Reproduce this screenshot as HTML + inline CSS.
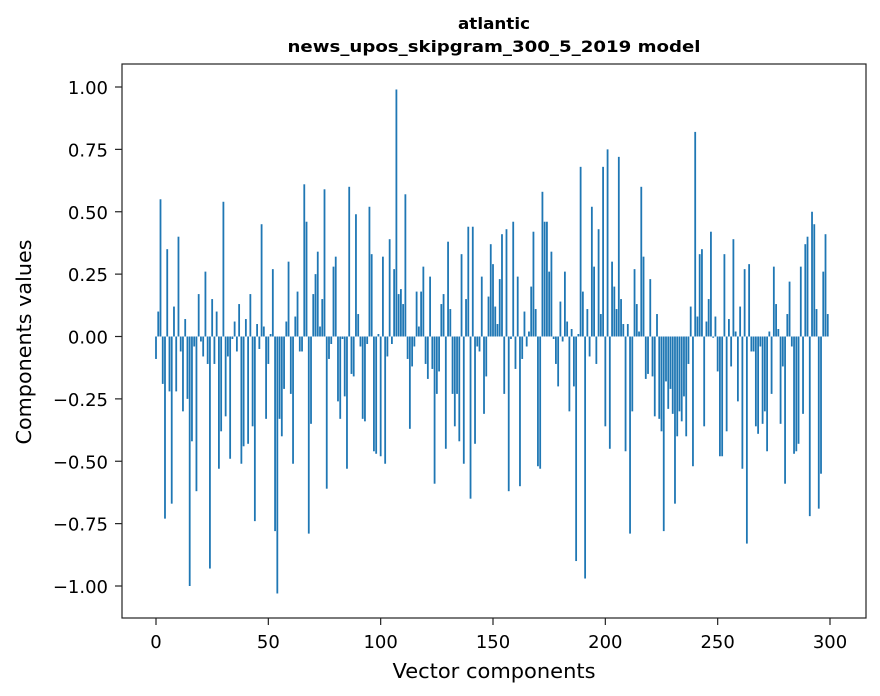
<!DOCTYPE html>
<html><head><meta charset="utf-8"><style>
body{margin:0;background:#fff;}
svg{display:block;font-family:"DejaVu Sans","Liberation Sans",sans-serif;}
</style></head><body>
<svg id="chart" width="880" height="696">
<rect width="880" height="696" fill="#fff"/>
<text x="494" y="29" text-anchor="middle" font-size="16" font-weight="bold" textLength="72" lengthAdjust="spacingAndGlyphs">atlantic</text>
<text x="494" y="52" text-anchor="middle" font-size="16" font-weight="bold" textLength="413" lengthAdjust="spacingAndGlyphs">news_upos_skipgram_300_5_2019 model</text>
<g id="bars"></g>
<g id="xticks"></g>
<g id="yticks"></g>
<rect x="122" y="64" width="744" height="554" fill="none" stroke="#222" stroke-width="1.2"/>
<text x="494" y="678" text-anchor="middle" font-size="20" textLength="203" lengthAdjust="spacingAndGlyphs">Vector components</text>
<text transform="translate(31,342) rotate(-90)" text-anchor="middle" font-size="20" textLength="205" lengthAdjust="spacingAndGlyphs">Components values</text>
</svg>
<script>
const values = [
-0.09,0.10,0.55,-0.19,-0.73,0.35,-0.22,-0.67,0.12,-0.22,
0.40,-0.06,-0.30,0.07,-0.25,-1.00,-0.42,-0.04,-0.62,0.17,
-0.02,-0.08,0.26,-0.11,-0.93,0.15,-0.11,0.10,-0.53,-0.38,
0.54,-0.32,-0.08,-0.49,-0.01,0.06,-0.06,0.13,-0.51,-0.44,
0.07,-0.43,0.17,-0.36,-0.74,0.05,-0.05,0.45,0.04,-0.33,
-0.11,0.01,0.27,-0.78,-1.03,-0.33,-0.40,-0.21,0.06,0.30,
-0.23,-0.51,0.08,0.18,-0.06,-0.06,0.61,0.46,-0.79,-0.35,
0.17,0.25,0.34,0.04,0.15,0.59,-0.61,-0.09,-0.03,0.28,
0.32,-0.26,-0.33,-0.01,-0.24,-0.53,0.60,-0.15,-0.16,0.49,
0.09,-0.04,-0.33,-0.34,-0.03,0.52,0.33,-0.46,-0.47,0.01,
-0.48,0.32,-0.51,-0.08,0.39,-0.03,0.27,0.99,0.17,0.19,
0.13,0.57,-0.09,-0.37,-0.12,-0.04,0.18,0.04,0.18,0.28,
-0.11,-0.17,0.24,-0.13,-0.59,-0.23,-0.14,0.13,0.17,-0.45,
0.38,0.11,-0.23,-0.36,-0.23,-0.42,0.33,-0.51,0.15,0.44,
-0.65,0.44,-0.43,-0.04,-0.06,0.24,-0.31,-0.16,0.16,0.37,
0.29,0.12,0.05,0.23,0.41,-0.23,0.43,-0.62,-0.01,0.46,
-0.13,0.24,-0.60,-0.09,0.10,-0.04,0.02,0.20,0.42,0.11,
-0.52,-0.53,0.58,0.46,0.46,0.26,0.34,-0.01,-0.11,-0.20,
0.14,-0.02,0.26,0.06,-0.30,0.03,-0.20,-0.90,0.01,0.68,
0.18,-0.97,0.11,-0.08,0.52,0.28,-0.11,0.43,0.09,0.68,
-0.36,0.75,-0.45,0.30,0.20,0.11,0.72,0.15,0.05,-0.46,
0.05,-0.79,-0.30,0.27,0.13,0.02,0.60,0.32,-0.17,-0.15,
0.23,-0.16,-0.32,0.09,-0.33,-0.38,-0.78,-0.18,-0.29,-0.21,
-0.31,-0.67,-0.40,-0.30,-0.34,-0.24,-0.40,-0.11,0.12,-0.52,
0.82,0.08,0.33,0.35,-0.36,0.06,0.15,0.42,-0.005,0.08,
-0.14,-0.48,-0.48,0.33,-0.38,0.07,-0.12,0.39,0.02,-0.26,
0.12,-0.53,0.27,-0.83,0.29,-0.06,-0.06,-0.36,-0.39,-0.04,
-0.35,-0.30,-0.46,0.02,-0.23,0.28,0.13,0.03,-0.35,-0.12,
-0.59,0.09,0.22,-0.04,-0.47,-0.46,-0.43,0.28,-0.31,0.37,
0.40,-0.72,0.50,0.45,0.11,-0.69,-0.55,0.26,0.41,0.09
];
const xTicks = [0,50,100,150,200,250,300];
const yTicks = [-1.00,-0.75,-0.50,-0.25,0.00,0.25,0.50,0.75,1.00];
const NS='http://www.w3.org/2000/svg';
const X0=156, XS=(830-156)/300, Y0=336.5, YS=249.5;
function xs(v){return X0+v*XS;}
function ys(v){return Y0-v*YS;}
const bars=document.getElementById('bars');
values.forEach((v,i)=>{
  const r=document.createElementNS(NS,'rect');
  const y1=ys(Math.max(v,0)), y2=ys(Math.min(v,0));
  r.setAttribute('x',xs(i-0.4));
  r.setAttribute('width',0.8*XS);
  r.setAttribute('y',y1);
  r.setAttribute('height',Math.max(y2-y1,0.3));
  r.setAttribute('fill','#1f77b4');
  
  
  bars.appendChild(r);
});
const xg=document.getElementById('xticks');
xTicks.forEach(t=>{
  const l=document.createElementNS(NS,'line');
  l.setAttribute('x1',xs(t));l.setAttribute('x2',xs(t));
  l.setAttribute('y1',618);l.setAttribute('y2',625);
  l.setAttribute('stroke','#222');l.setAttribute('stroke-width','1.2');
  
  
  xg.appendChild(l);
  const tx=document.createElementNS(NS,'text');
  tx.setAttribute('x',xs(t));tx.setAttribute('y',648);
  tx.setAttribute('text-anchor','middle');tx.setAttribute('font-size','18');
  tx.textContent=t;
  
  
  xg.appendChild(tx);
});
const yg=document.getElementById('yticks');
yTicks.forEach(t=>{
  const l=document.createElementNS(NS,'line');
  l.setAttribute('x1',115);l.setAttribute('x2',122);
  l.setAttribute('y1',ys(t));l.setAttribute('y2',ys(t));
  l.setAttribute('stroke','#222');l.setAttribute('stroke-width','1.2');
  
  
  yg.appendChild(l);
  const tx=document.createElementNS(NS,'text');
  tx.setAttribute('x',108);tx.setAttribute('y',ys(t)+7);
  tx.setAttribute('text-anchor','end');tx.setAttribute('font-size','18');
  tx.textContent=(t<0?'\u2212':'')+Math.abs(t).toFixed(2);
  
  
  yg.appendChild(tx);
});
</script>
</body></html>
